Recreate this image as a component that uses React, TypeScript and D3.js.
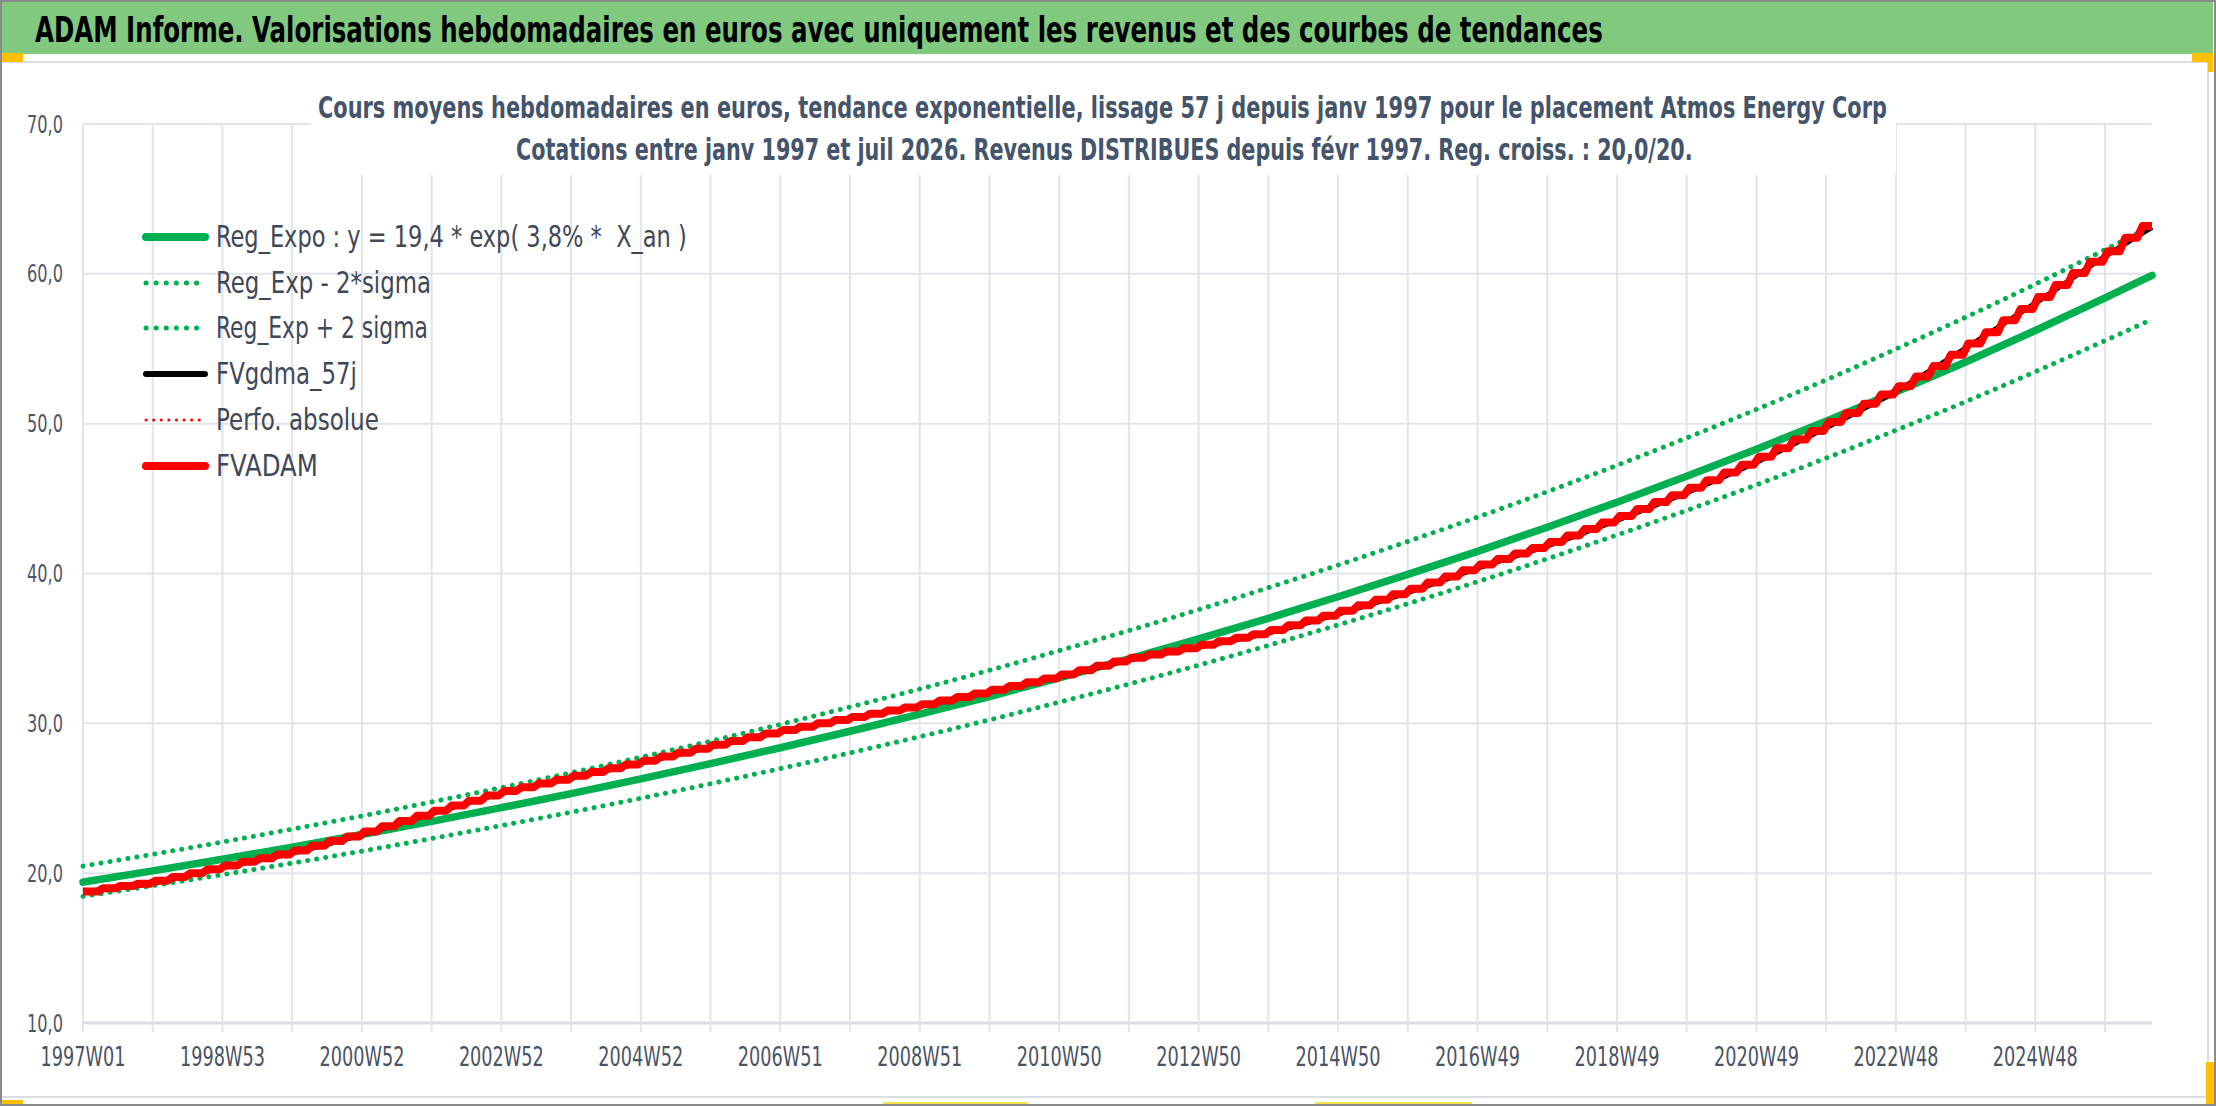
import React, { useLayoutEffect, useRef, useState } from 'react';
import * as d3 from 'd3';

const W = 2216;
const H = 1106;

// weekly categories run from 1997W01 (week 0) to juil 2026 (week 1543)
const lastWeek = 1543;
const weeksPerYear = 52;
const weeksPerQuarter = 13;

const xTickLabels = [
    '1997W01', '1998W53', '2000W52', '2002W52', '2004W52', '2006W51', '2008W51', '2010W50',
    '2012W50', '2014W50', '2016W49', '2018W49', '2020W49', '2022W48', '2024W48',
];
const yTicks = [10, 20, 30, 40, 50, 60, 70];

// yearly samples (each 52 weeks, last one at the final week)
const regExpo = [
    19.40, 20.15, 20.93, 21.74, 22.58, 23.46, 24.37, 25.31, 26.29, 27.31,
    28.37, 29.47, 30.61, 31.79, 33.03, 34.30, 35.63, 37.01, 38.45, 39.94,
    41.48, 43.09, 44.76, 46.49, 48.29, 50.16, 52.11, 54.12, 56.22, 58.40, 59.90,
];
const regLow = [
    18.45, 19.16, 19.90, 20.67, 21.47, 22.31, 23.18, 24.07, 25.00, 25.97,
    26.98, 28.03, 29.11, 30.23, 31.41, 32.62, 33.88, 35.20, 36.57, 37.98,
    39.45, 40.98, 42.57, 44.21, 45.92, 47.70, 49.56, 51.47, 53.47, 55.54, 56.96,
];
const regHigh = [
    20.47, 21.26, 22.08, 22.94, 23.82, 24.75, 25.71, 26.70, 27.74, 28.81,
    29.93, 31.09, 32.29, 33.54, 34.85, 36.19, 37.59, 39.05, 40.56, 42.14,
    43.76, 45.46, 47.22, 49.05, 50.95, 52.92, 54.98, 57.10, 59.31, 61.61, 63.19,
];
const fvgdma = [
    18.78, 19.33, 20.36, 21.34, 22.56, 23.96, 25.31, 26.34, 27.35, 28.41,
    29.41, 30.30, 31.13, 32.08, 33.08, 34.23, 35.09, 36.03, 37.29, 38.73,
    40.35, 41.84, 43.55, 45.39, 47.42, 49.72, 52.16, 55.04, 58.04, 61.16, 63.10,
];

// quarterly levels (revenus distribues each quarter)
const fvadam = [
    18.78, 18.99, 19.14, 19.29, 19.49, 19.75, 20.00, 20.26, 20.51, 20.76, 21.00, 21.25,
    21.52, 21.83, 22.14, 22.45, 22.78, 23.13, 23.48, 23.83, 24.17, 24.51, 24.84, 25.18,
    25.48, 25.73, 25.99, 26.24, 26.50, 26.75, 27.00, 27.25, 27.51, 27.78, 28.04, 28.31,
    28.57, 28.82, 29.07, 29.32, 29.55, 29.77, 30.00, 30.22, 30.43, 30.64, 30.85, 31.06,
    31.28, 31.52, 31.75, 31.99, 32.24, 32.49, 32.74, 32.99, 33.26, 33.55, 33.84, 34.13,
    34.38, 34.59, 34.80, 35.01, 35.24, 35.48, 35.71, 35.95, 36.23, 36.55, 36.86, 37.18,
    37.52, 37.88, 38.25, 38.61, 38.99, 39.40, 39.80, 40.21, 40.60, 40.97, 41.34, 41.71,
    42.11, 42.54, 42.97, 43.40, 43.84, 44.30, 44.77, 45.23, 45.72, 46.23, 46.74, 47.25,
    47.79, 48.36, 48.94, 49.51, 50.11, 50.72, 51.33, 51.94, 52.50, 53.15, 53.85, 54.60,
    55.35, 56.10, 56.90, 57.65, 58.45, 59.25, 60.05, 60.80, 61.50, 62.40, 63.20,
];

const legendLabels = [
    'Reg_Expo : y = 19,4 * exp( 3,8% *  X_an )',
    'Reg_Exp - 2*sigma',
    'Reg_Exp + 2 sigma',
    'FVgdma_57j',
    'Perfo. absolue',
    'FVADAM',
];

const mainTitle = 'ADAM Informe. Valorisations hebdomadaires en euros avec uniquement les revenus et des courbes de tendances';
const subTitle1 = 'Cours moyens hebdomadaires en euros, tendance exponentielle, lissage 57 j depuis janv 1997 pour le placement Atmos Energy Corp';
const subTitle2 = 'Cotations entre janv 1997 et juil 2026. Revenus DISTRIBUES depuis févr 1997. Reg. croiss. : 20,0/20.';

const FONT = '"Liberation Sans Narrow", "DejaVu Sans Condensed", "Roboto", sans-serif';
const GREEN = '#00b050';
const RED = '#ff0000';
const GRID = '#e1e4e9';

const margin = { top: 124, right: 64, bottom: 83, left: 83 };

// text squeezed horizontally to a measured width (the source font is narrow)
function FitText({ x, y, width, anchor = 'start', children, ...rest }: any) {
    const ref = useRef<SVGTextElement>(null);
    const [sx, setSx] = useState(1);
    useLayoutEffect(() => {
        if (!ref.current) return;
        const len = ref.current.getComputedTextLength();
        if (len > 0) setSx(width / len);
    }, [width, children]);
    return (
        <text ref={ref} transform={`translate(${x},${y}) scale(${sx},1)`} textAnchor={anchor} {...rest}>
            {children}
        </text>
    );
}

export default function App() {
    const x = d3.scaleLinear().domain([0, lastWeek]).range([margin.left, W - margin.right]);
    const y = d3.scaleLinear().domain([10, 70]).range([H - margin.bottom, margin.top]);

    const sampleWeeks = d3.range(0, lastWeek, weeksPerYear).concat([lastWeek]);
    const gridWeeks = d3.range(0, lastWeek, weeksPerYear);

    const smooth = d3.line<number>()
        .x((_, i) => x(sampleWeeks[i]))
        .y(d => y(d))
        .curve(d3.curveMonotoneX);

    // staircase: flat over the quarter, short rise at each payment
    const stairs: [number, number][] = [];
    fvadam.forEach((v, q) => {
        const s = q * weeksPerQuarter;
        const e = Math.min((q + 1) * weeksPerQuarter, lastWeek);
        stairs.push([q === 0 ? s : s + 2, v]);
        stairs.push([q === fvadam.length - 1 ? e : e - 2, v]);
    });
    const stairLine = d3.line<[number, number]>().x(d => x(d[0])).y(d => y(d[1]));

    // title box hides the grid behind the subtitle
    const titleBox = { x0: 311, x1: 1896, y0: 66, y1: 175 };

    const legendRowY = [237, 283, 328, 374, 420, 466];
    const legendWidths = [471, 215, 212, 141, 163, 102];
    const legendStyles = [
        { stroke: GREEN, width: 8, dash: undefined as string | undefined },
        { stroke: GREEN, width: 5, dash: '0.1 10' },
        { stroke: GREEN, width: 5, dash: '0.1 10' },
        { stroke: '#000000', width: 6, dash: undefined },
        { stroke: RED, width: 3, dash: '0.1 7.5' },
        { stroke: RED, width: 8, dash: undefined },
    ];

    return (
        <svg width={W} height={H} viewBox={`0 0 ${W} ${H}`}
            style={{ position: 'absolute', left: 0, top: 0, background: '#ffffff', fontFamily: FONT }}>
            <rect x={0} y={0} width={W} height={H} fill="#ffffff" />

            {/* green header */}
            <rect x={2} y={2} width={2211} height={52} fill="#80c97f" />
            <FitText x={35} y={42} width={1568} fontSize={36} fontWeight="bold" fill="#000000">{mainTitle}</FitText>

            {/* chart frame */}
            <rect x={1} y={62} width={2207} height={1035} fill="none" stroke="#d9dce1" strokeWidth={2} />

            {/* horizontal grid */}
            {yTicks.map(t => (
                <line key={`h${t}`} x1={x(0)} x2={x(lastWeek)} y1={y(t)} y2={y(t)}
                    stroke={t === 10 ? '#d9dde3' : GRID} strokeWidth={t === 10 ? 3 : 2} />
            ))}
            {/* vertical grid + ticks */}
            {gridWeeks.map(w => (
                <line key={`v${w}`} x1={x(w)} x2={x(w)} y1={y(70)} y2={y(10) + 9}
                    stroke={GRID} strokeWidth={2} />
            ))}

            {/* y labels */}
            {yTicks.map(t => (
                <FitText key={`yl${t}`} x={63} y={y(t) + 8.5} width={36} anchor="end"
                    fontSize={25} fill="#4f5663">
                    {d3.format('.1f')(t).replace('.', ',')}
                </FitText>
            ))}
            {/* x labels */}
            {xTickLabels.map((l, i) => (
                <FitText key={l} x={x(i * weeksPerYear * 2)} y={1066} width={85} anchor="middle"
                    fontSize={27} fill="#4a5363">{l}</FitText>
            ))}

            {/* series */}
            <path d={smooth(regExpo) ?? ''} fill="none" stroke={GREEN} strokeWidth={7.5} strokeLinecap="round" />
            <path d={smooth(regLow) ?? ''} fill="none" stroke={GREEN} strokeWidth={5}
                strokeDasharray="0.1 9" strokeLinecap="round" />
            <path d={smooth(regHigh) ?? ''} fill="none" stroke={GREEN} strokeWidth={5}
                strokeDasharray="0.1 9" strokeLinecap="round" />
            <path d={smooth(fvgdma) ?? ''} fill="none" stroke="#000000" strokeWidth={5} />
            <path d={stairLine(stairs) ?? ''} fill="none" stroke={RED} strokeWidth={8}
                strokeLinejoin="round" strokeLinecap="butt" />

            {/* subtitle box */}
            <rect x={titleBox.x0} y={titleBox.y0} width={titleBox.x1 - titleBox.x0}
                height={titleBox.y1 - titleBox.y0} fill="#ffffff" />
            <FitText x={318} y={118} width={1570} fontSize={31} fontWeight="bold" fill="#44546a">{subTitle1}</FitText>
            <FitText x={516} y={160} width={1177} fontSize={31} fontWeight="bold" fill="#44546a">{subTitle2}</FitText>

            {/* legend */}
            {legendLabels.map((l, i) => {
                const st = legendStyles[i];
                return (
                    <g key={l}>
                        <line x1={146} x2={205} y1={legendRowY[i]} y2={legendRowY[i]}
                            stroke={st.stroke} strokeWidth={st.width} strokeDasharray={st.dash}
                            strokeLinecap="round" />
                        <FitText x={216} y={legendRowY[i] + 10} width={legendWidths[i]}
                            fontSize={31} fill="#404756" style={{ whiteSpace: 'pre' }}>{l}</FitText>
                    </g>
                );
            })}

            {/* selection handles */}
            <rect x={0} y={53} width={23} height={9} fill="#ffc000" />
            <rect x={2192} y={53} width={21} height={9} fill="#ffc000" />
            <rect x={2208} y={53} width={5} height={19} fill="#ffc000" />
            <rect x={0} y={1100} width={23} height={6} fill="#ffc000" />
            <rect x={2206} y={1062} width={8} height={44} fill="#ffc000" />
            <rect x={883} y={1102} width={145} height={4} fill="#f2e34c" />
            <rect x={1315} y={1102} width={157} height={4} fill="#f2e34c" />

            {/* outer border */}
            <rect x={1} y={1} width={W - 2} height={H - 2} fill="none" stroke="#8a8a8a" strokeWidth={2} />
        </svg>
    );
}
